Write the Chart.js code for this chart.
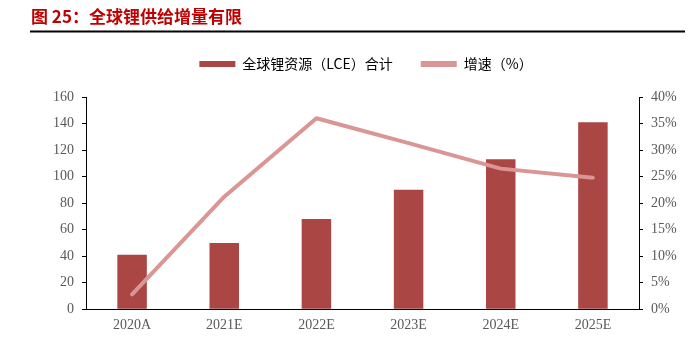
<!DOCTYPE html>
<html>
<head>
<meta charset="utf-8">
<script src="https://cdn.jsdelivr.net/npm/chart.js@4.4.1/dist/chart.umd.min.js"></script>
<style>
  html, body { margin: 0; padding: 0; background: #fff; }
  #wrap { width: 693px; height: 340px; position: relative; }
</style>
</head>
<body>
<div id="wrap"><canvas id="myChart"></canvas></div>
<script>
const categories = ['2020A', '2021E', '2022E', '2023E', '2024E', '2025E'];
const supplyLCE = [41, 50, 68, 90, 113, 141];
const growthPct = [2.8, 21.2, 36, 31.3, 26.5, 24.8];
const leftTicks = [0, 20, 40, 60, 80, 100, 120, 140, 160];
const rightTicks = [0, 5, 10, 15, 20, 25, 30, 35, 40];

const titleText = '图 25：全球锂供给增量有限';
const serif = '"Liberation Serif", "DejaVu Serif", serif';
const cjk = '"Noto Sans CJK SC", sans-serif';

// title and rule above the chart
const titlePlugin = {
    id: 'titleBar',
    afterDraw(chart) {
        const ctx = chart.ctx;
        ctx.save();
        ctx.fillStyle = '#C00000';
        ctx.font = 'bold 17px ' + cjk;
        ctx.textBaseline = 'middle';
        ctx.textAlign = 'left';
        ctx.fillText(titleText, 31, 17);
        ctx.strokeStyle = '#000';
        ctx.lineWidth = 2;
        ctx.beginPath();
        ctx.moveTo(30, 31.5);
        ctx.lineTo(685, 31.5);
        ctx.stroke();
        ctx.restore();
    }
};

// leave extra room between the legend and the plot
const legendGap = {
    id: 'legendGap',
    afterInit(chart) {
        const lg = chart.legend;
        const baseFit = Object.getPrototypeOf(lg).fit;
        lg.fit = function () {
            baseFit.call(this);
            this.height += 16;
        };
    }
};

const ctx = document.getElementById('myChart').getContext('2d');
new Chart(ctx, {
    type: 'bar',
    data: {
        labels: categories,
        datasets: [
            {
                label: '全球锂资源（LCE）合计',
                data: supplyLCE,
                backgroundColor: '#AA4644',
                yAxisID: 'y',
                order: 1,
                categoryPercentage: 1,
                barPercentage: 0.32
            },
            {
                type: 'line',
                label: '增速（%）',
                data: growthPct,
                borderColor: '#D99694',
                backgroundColor: '#D99694',
                borderWidth: 4,
                borderCapStyle: 'round',
                borderJoinStyle: 'round',
                pointRadius: 0,
                tension: 0,
                yAxisID: 'y1',
                order: 0
            }
        ]
    },
    options: {
        responsive: true,
        maintainAspectRatio: false,
        animation: false,
        layout: {
            padding: { top: 29, left: 40, right: 1, bottom: -2 }
        },
        plugins: {
            tooltip: { enabled: false },
            legend: {
                position: 'top',
                labels: {
                    color: '#595959',
                    font: { family: cjk, size: 14 },
                    boxWidth: 36,
                    boxHeight: 6,
                    padding: 28,
                    generateLabels(chart) {
                        return chart.data.datasets.map((ds, i) => ({
                            text: ds.label,
                            fillStyle: ds.backgroundColor,
                            strokeStyle: ds.backgroundColor,
                            lineWidth: 0,
                            datasetIndex: i,
                            hidden: false
                        }));
                    }
                }
            }
        },
        scales: {
            x: {
                grid: { display: false, drawTicks: false },
                border: { display: true, color: '#000', width: 1 },
                ticks: { color: '#595959', font: { family: serif, size: 14 }, padding: 8 }
            },
            y: {
                position: 'left',
                min: 0,
                max: 160,
                afterBuildTicks(scale) { scale.ticks = leftTicks.map(v => ({ value: v })); },
                afterFit(scale) { scale.width = 46; },
                grid: { drawOnChartArea: false, drawTicks: true, tickLength: 4, color: '#000' },
                border: { display: true, color: '#000', width: 1 },
                ticks: { color: '#595959', font: { family: serif, size: 14 }, padding: 8 }
            },
            y1: {
                position: 'right',
                min: 0,
                max: 40,
                afterBuildTicks(scale) { scale.ticks = rightTicks.map(v => ({ value: v })); },
                afterFit(scale) { scale.width = 53; },
                grid: { drawOnChartArea: false, drawTicks: true, tickLength: 4, color: '#000' },
                border: { display: true, color: '#000', width: 1 },
                ticks: {
                    color: '#595959',
                    font: { family: serif, size: 14 },
                    padding: 8,
                    callback: v => v + '%'
                }
            }
        }
    },
    plugins: [titlePlugin, legendGap]
});
</script>
</body>
</html>
